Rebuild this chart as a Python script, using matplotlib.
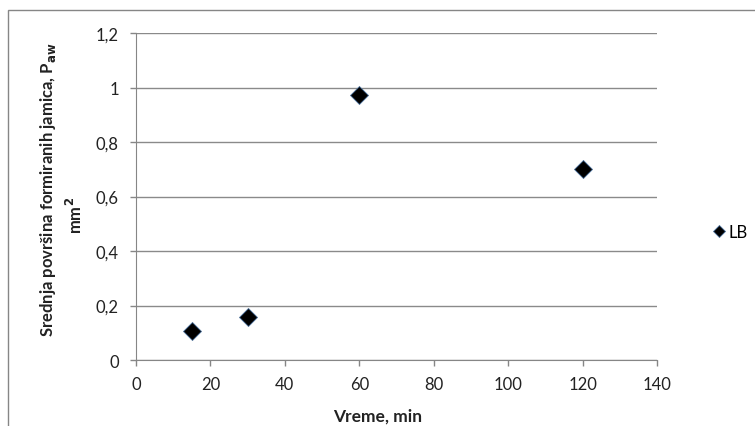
import matplotlib.pyplot as plt
from matplotlib.ticker import FuncFormatter, MultipleLocator
from matplotlib.patches import Rectangle

# data
vreme = [15, 30, 60, 120]
p_aw = [0.106, 0.159, 0.972, 0.70]
serija = 'LB'

plt.rcParams['font.family'] = ['Lato', 'DejaVu Sans']

W, H = 755, 427
fig = plt.figure(figsize=(7.55, 4.27), dpi=100)
ax = fig.add_axes([136/W, 1 - 361/H, (657 - 136)/W, (361 - 34)/H])

# chart area border (only left and top visible in the reference)
fig.patches.append(Rectangle((8/W, -0.1), 1.2, 1 - 11/H + 0.1,
                             transform=fig.transFigure, fill=False,
                             edgecolor='#868686', lw=1.0))

ax.plot(vreme, p_aw, linestyle='none', marker='D', markersize=9.5,
        markerfacecolor='black', markeredgecolor='#4a6f9a', markeredgewidth=0.6,
        label=serija, zorder=3)

ax.set_xlim(0, 140)
ax.set_ylim(0, 1.2)
ax.xaxis.set_major_locator(MultipleLocator(20))
ax.yaxis.set_major_locator(MultipleLocator(0.2))
fmt = FuncFormatter(lambda v, p: ('%g' % round(v, 2)).replace('.', ','))
ax.xaxis.set_major_formatter(fmt)
ax.yaxis.set_major_formatter(fmt)

ax.grid(axis='y', color='#8a8a8a', lw=1.0)
ax.set_axisbelow(True)
for s in ['top', 'right']:
    ax.spines[s].set_visible(False)
for s in ['left', 'bottom']:
    ax.spines[s].set_color('#868686')
ax.tick_params(colors='#868686', length=4.3, width=1, labelcolor='#222222',
               labelsize=12)
ax.tick_params(axis='y', pad=8)
ax.tick_params(axis='x', pad=7)

ax.set_xlabel('Vreme, min', fontweight='bold', fontsize=12.5, color='#222222')
ax.xaxis.set_label_coords((378 - 136)/521, -0.145)

# y label: first line as the axis label, the unit as a second rotated text
ax.set_ylabel('Srednja površina formiranih jamica, P$_{\\mathbf{aw}}$',
              fontweight='bold', fontsize=12, color='#222222',
              va='center', ha='center')
ax.yaxis.set_label_coords((48 - 136)/521, (361 - 190)/327)
fig.text(75/W, 1 - 215/H, 'mm$^{\\mathbf{2}}$', rotation=90, fontweight='bold',
         fontsize=12, color='#222222', ha='center', va='center')

fig.legend(loc='center left', bbox_to_anchor=(704/W, 1 - 233/H),
           frameon=False, fontsize=12, handletextpad=0.1, markerscale=0.65,
           handlelength=1.0, borderaxespad=0)

fig.savefig('out.png', dpi=100)
